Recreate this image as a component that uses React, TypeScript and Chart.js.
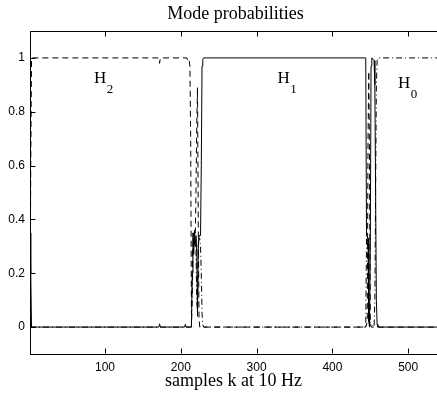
import React, { useEffect, useRef } from "react";
import { Chart, registerables } from "chart.js";
Chart.register(...registerables);

const TITLE = "Mode probabilities";
const X_LABEL = "samples k at 10 Hz";
const X_TICKS = [100, 200, 300, 400, 500];
const Y_TICKS = [0, 0.2, 0.4, 0.6, 0.8, 1];
const X_MIN = 1;
const X_MAX = 538;
const Y_MIN = -0.1;
const Y_MAX = 1.1;

// H1 (solid)
const h1K = [1, 2, 3, 171, 172, 173, 205, 206, 207, 214, 215, 216, 217, 218, 219, 220, 221, 222, 223, 224, 226, 227, 228, 229, 230, 444, 445, 447, 448, 449, 450, 451, 452, 455, 456, 457, 458, 459, 460, 538];
const h1P = [0.35, 0.2, 0, 0, 0.012, 0, 0, 0.01, 0, 0, 0.2, 0.35, 0.27, 0.36, 0.3, 0.34, 0.28, 0.04, 0.3, 0.34, 0.34, 0.6, 0.97, 0.995, 1, 1, 0.34, 0.33, 0.02, 0, 0.3, 0.97, 1, 0.99, 0.9, 0.5, 0.1, 0.01, 0, 0];

// H2 (dashed)
const h2K = [1, 2, 3, 171, 172, 173, 208, 209, 210, 211, 212, 213, 214, 215, 216, 217, 218, 219, 220, 221, 222, 223, 224, 225, 444, 446, 447, 448, 449, 450, 451, 538];
const h2P = [0, 0.6, 1, 1, 0.98, 1, 1, 0.99, 0.985, 0.99, 0.97, 0.7, 0.05, 0.2, 0.3, 0.35, 0.3, 0.33, 0.5, 0.75, 0.89, 0.4, 0.03, 0, 0, 0.02, 0.7, 0.95, 0.6, 0.02, 0, 0];

// H0 (dash-dot)
const h0K = [1, 214, 215, 216, 217, 218, 219, 220, 221, 222, 223, 224, 225, 226, 227, 228, 229, 230, 444, 445, 446, 447, 448, 449, 455, 456, 457, 458, 459, 460, 538];
const h0P = [0, 0, 0.1, 0.3, 0.33, 0.3, 0.32, 0.3, 0.1, 0.06, 0.3, 0.33, 0.33, 0.3, 0.2, 0.05, 0.01, 0, 0, 0.33, 0.34, 0.3, 0.05, 0.02, 0, 0.1, 0.5, 0.9, 0.99, 1, 1];

// Mode annotations
const modeMain = ["H", "H", "H"];
const modeSub = ["2", "1", "0"];
const modeK = [85.5, 327.4, 486.5];
const modeP = [0.907, 0.907, 0.89];

const SERIF = "'Liberation Serif', 'Times New Roman', serif";

const toPts = (ks: number[], ps: number[]) => ks.map((k, i) => ({ x: k, y: ps[i] }));

const decorPlugin = {
  id: "decor",
  afterDraw(chart: any) {
    const { ctx, chartArea, scales } = chart;
    const xs = scales.x;
    const ys = scales.y;
    const L = Math.round(chartArea.left) + 0.5;
    const T = Math.round(chartArea.top) + 0.5;
    const B = Math.round(chartArea.bottom) - 0.5;
    const R = chartArea.right;
    const tl = 5;
    ctx.save();
    ctx.strokeStyle = "#000";
    ctx.lineWidth = 1;
    ctx.beginPath();
    ctx.moveTo(L, T);
    ctx.lineTo(R, T);
    X_TICKS.forEach((v) => {
      const px = Math.round(xs.getPixelForValue(v)) + 0.5;
      ctx.moveTo(px, T);
      ctx.lineTo(px, T + tl);
      ctx.moveTo(px, B);
      ctx.lineTo(px, B - tl);
    });
    Y_TICKS.forEach((v) => {
      const py = Math.round(ys.getPixelForValue(v)) + 0.5;
      ctx.moveTo(L, py);
      ctx.lineTo(L + tl, py);
    });
    ctx.stroke();

    ctx.fillStyle = "#000";
    ctx.textAlign = "center";
    ctx.textBaseline = "middle";
    ctx.font = "18px " + SERIF;
    ctx.fillText(TITLE, (chartArea.left + chartArea.right) / 2 + 2, 14);

    ctx.textAlign = "left";
    ctx.textBaseline = "alphabetic";
    modeMain.forEach((m, i) => {
      const px = xs.getPixelForValue(modeK[i]);
      const py = ys.getPixelForValue(modeP[i]);
      ctx.font = "17px " + SERIF;
      ctx.fillText(m, px, py);
      const w = ctx.measureText(m).width;
      ctx.font = "13px " + SERIF;
      ctx.fillText(modeSub[i], px + w + 0.5, py + 10.5);
    });
    ctx.restore();
  },
};

export default function App() {
  const ref = useRef<HTMLCanvasElement | null>(null);
  useEffect(() => {
    if (!ref.current) return;
    const tickFont = { family: "'Liberation Sans', Arial, sans-serif", size: 12 };
    const chart = new Chart(ref.current, {
      type: "line",
      data: {
        datasets: [
          {
            label: "H1",
            data: toPts(h1K, h1P),
            borderColor: "#000",
            borderWidth: 1,
            pointRadius: 0,
            tension: 0,
            fill: false,
          },
          {
            label: "H2",
            data: toPts(h2K, h2P),
            borderColor: "#000",
            borderWidth: 1,
            borderDash: [6, 4],
            pointRadius: 0,
            tension: 0,
            fill: false,
          },
          {
            label: "H0",
            data: toPts(h0K, h0P),
            borderColor: "#000",
            borderWidth: 1,
            borderDash: [6, 3, 1, 3],
            pointRadius: 0,
            tension: 0,
            fill: false,
          },
        ],
      },
      options: {
        animation: false,
        responsive: false,
        devicePixelRatio: 1,
        layout: { padding: { top: 31, left: 0, right: 0, bottom: 0 } },
        plugins: {
          legend: { display: false },
          title: { display: false },
          tooltip: { enabled: false },
        },
        scales: {
          x: {
            type: "linear",
            min: X_MIN,
            max: X_MAX,
            grid: { display: false, drawTicks: false },
            border: { display: true, color: "#000", width: 1 },
            afterBuildTicks: (s: any) => {
              s.ticks = X_TICKS.map((v) => ({ value: v }));
            },
            afterFit: (s: any) => {
              s.height = 40;
            },
            ticks: {
              font: tickFont,
              color: "#000",
              padding: 6,
              maxRotation: 0,
              autoSkip: false,
              callback: (v: any) => String(v),
            },
            title: {
              display: true,
              text: X_LABEL,
              color: "#000",
              font: { family: SERIF, size: 18 },
              padding: { top: 0, bottom: 2 },
            },
          },
          y: {
            type: "linear",
            min: Y_MIN,
            max: Y_MAX,
            grid: { display: false, drawTicks: false },
            border: { display: true, color: "#000", width: 1 },
            afterBuildTicks: (s: any) => {
              s.ticks = Y_TICKS.map((v) => ({ value: v }));
            },
            afterFit: (s: any) => {
              s.width = 30;
            },
            ticks: {
              font: tickFont,
              color: "#000",
              padding: 5,
              callback: (v: any) => String(Math.round(Number(v) * 10) / 10),
            },
          },
        },
      },
      plugins: [decorPlugin],
    });
    return () => chart.destroy();
  }, []);
  return (
    <div style={{ position: "absolute", left: 0, top: 0, width: 437, height: 394, background: "#fff" }}>
      <canvas ref={ref} width={437} height={394} style={{ display: "block" }} />
    </div>
  );
}
